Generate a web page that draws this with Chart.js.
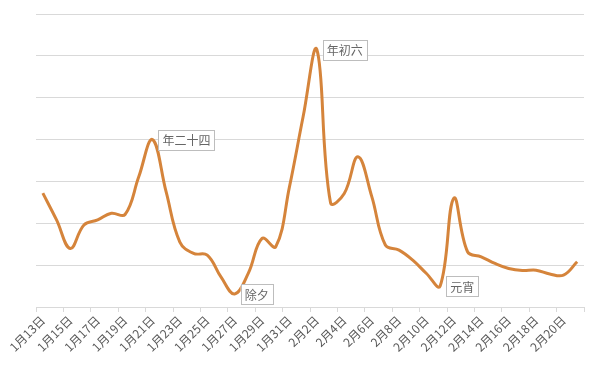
<!DOCTYPE html>
<html>
<head>
<meta charset="utf-8">
<script src="https://cdn.jsdelivr.net/npm/chart.js@4.4.0/dist/chart.umd.min.js"></script>
<style>
  html, body { margin: 0; padding: 0; background: #fff; }
  #wrap { width: 600px; height: 365px; }
</style>
</head>
<body>
<div id="wrap"><canvas id="trendChart"></canvas></div>
<script>
const days = [
  '1月13日','1月14日','1月15日','1月16日','1月17日','1月18日','1月19日','1月20日',
  '1月21日','1月22日','1月23日','1月24日','1月25日','1月26日','1月27日','1月28日',
  '1月29日','1月30日','1月31日','2月1日','2月2日','2月3日','2月4日','2月5日',
  '2月6日','2月7日','2月8日','2月9日','2月10日','2月11日','2月12日','2月13日',
  '2月14日','2月15日','2月16日','2月17日','2月18日','2月19日','2月20日','2月21日'
];
const values = [
  2.72, 2.08, 1.40, 1.96, 2.08, 2.24, 2.21, 3.11,
  4.00, 2.75, 1.55, 1.28, 1.24, 0.72, 0.31, 0.81,
  1.64, 1.44, 2.87, 4.55, 6.15, 2.49, 2.71, 3.59,
  2.65, 1.48, 1.36, 1.12, 0.80, 0.50, 2.60, 1.32,
  1.20, 1.04, 0.92, 0.87, 0.88, 0.79, 0.76, 1.08
];
const noteDays = ['1月21日', '1月27日', '2月2日', '2月11日'];
const noteTexts = ['年二十四', '除夕', '年初六', '元宵'];

const FONT = '"Noto Sans CJK SC", "Noto Sans", sans-serif';

// boxes with the festival names, right of their point
const notePlugin = {
  id: 'notes',
  afterDatasetsDraw(chart) {
    const ctx = chart.ctx;
    const meta = chart.getDatasetMeta(0);
    ctx.save();
    ctx.font = '12px ' + FONT;
    ctx.textBaseline = 'middle';
    noteDays.forEach((d, k) => {
      const pt = meta.data[days.indexOf(d)];
      const w = ctx.measureText(noteTexts[k]).width + 8;
      const h = 20;
      const x = pt.x + 6;
      const y = pt.y - h / 2;
      ctx.fillStyle = '#fff';
      ctx.fillRect(x, y, w, h);
      ctx.strokeStyle = '#bdbdbd';
      ctx.lineWidth = 1;
      ctx.strokeRect(Math.round(x) + 0.5, Math.round(y) + 0.5, Math.round(w), h);
      ctx.fillStyle = '#666';
      ctx.fillText(noteTexts[k], x + 4, pt.y + 1);
    });
    ctx.restore();
  }
};

const chart = new Chart(document.getElementById('trendChart'), {
  type: 'line',
  data: {
    labels: days,
    datasets: [{
      data: values,
      borderColor: '#d5843b',
      borderWidth: 3,
      pointRadius: 0,
      tension: 0.4,
      fill: false
    }]
  },
  options: {
    responsive: true,
    maintainAspectRatio: false,
    animation: false,
    layout: { padding: { left: 36, right: 16, top: 14, bottom: 0 } },
    plugins: { legend: { display: false }, tooltip: { enabled: false } },
    scales: {
      x: {
        offset: true,
        border: { display: true, color: '#d9d9d9' },
        grid: {
          offset: true,
          drawOnChartArea: false,
          drawTicks: true,
          tickLength: 5,
          color: c => (c.index === undefined || c.index % 2 === 0) ? '#d9d9d9' : 'rgba(0,0,0,0)'
        },
        ticks: {
          autoSkip: false,
          minRotation: 45,
          maxRotation: 45,
          padding: 1,
          color: '#595959',
          font: { family: FONT, size: 12 },
          callback: (v, i) => i % 2 === 0 ? days[i] : ''
        },
        afterFit: s => { s.height = 58; }
      },
      y: {
        min: 0,
        max: 7,
        ticks: { display: false, stepSize: 1 },
        border: { display: false },
        grid: { color: '#d9d9d9', drawTicks: false }
      }
    }
  },
  plugins: [notePlugin]
});
</script>
</body>
</html>
